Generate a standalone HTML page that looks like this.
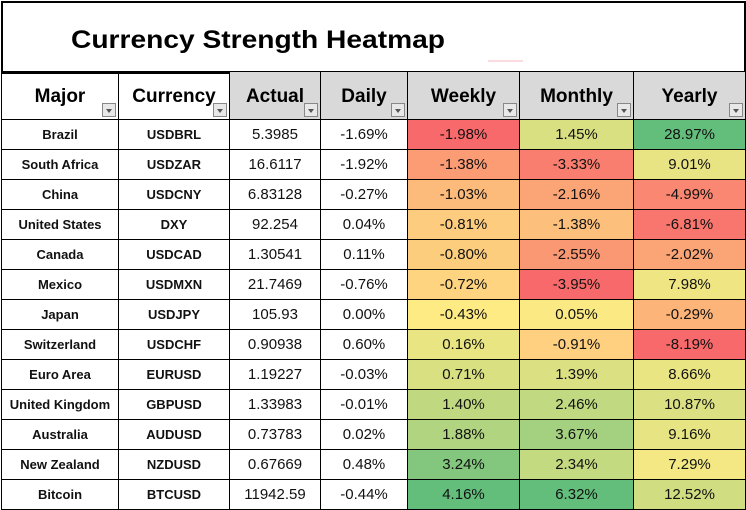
<!DOCTYPE html>
<html><head><meta charset="utf-8"><style>
body{margin:0;width:746px;height:510px;background:#fff;position:relative;overflow:hidden;font-family:"Liberation Sans",sans-serif}
#title{position:absolute;left:1px;top:1px;width:741px;height:69px;border:2px solid #000;border-bottom-width:2px}
table{position:absolute;left:1px;top:71px;border-collapse:collapse;table-layout:fixed}
td,th{border:1px solid #000;padding:0;text-align:center;overflow:hidden;white-space:nowrap;position:relative}
th{height:48px;font-size:19px;font-weight:bold;vertical-align:middle;padding-top:3px;box-sizing:border-box}
th.g{background:#d9d9d9}
td{height:29px;font-size:15px;color:#111}
td.b{font-weight:bold;font-size:13px}
.dd{position:absolute;right:2px;bottom:2px;width:14px;height:14px;border:1px solid #888;background:#e8e8e8;box-sizing:border-box}
.dd:after{content:"";position:absolute;left:3px;top:5px;border-left:3px solid transparent;border-right:3px solid transparent;border-top:4px solid #555}
</style></head><body>
<div id="title"><svg width="741" height="69" style="position:absolute;left:0;top:0"><text x="68" y="45" font-family="Liberation Sans" font-weight="bold" font-size="25" textLength="374" lengthAdjust="spacingAndGlyphs">Currency Strength Heatmap</text><line x1="485" y1="58" x2="520" y2="58" stroke="#f4b8c0" stroke-width="1"/></svg></div>
<table id="t">
<colgroup><col style="width:117px"><col style="width:111px"><col style="width:91px"><col style="width:87px"><col style="width:112px"><col style="width:114px"><col style="width:112px"></colgroup>
<tr><th>Major<span class="dd"></span></th><th>Currency<span class="dd"></span></th><th class="g">Actual<span class="dd"></span></th><th class="g">Daily<span class="dd"></span></th><th class="g">Weekly<span class="dd"></span></th><th class="g">Monthly<span class="dd"></span></th><th class="g">Yearly<span class="dd"></span></th></tr>
</table>
<script>
var d=[["Brazil","USDBRL","5.3985",-1.69,-1.98,1.45,28.97],["South Africa","USDZAR","16.6117",-1.92,-1.38,-3.33,9.01],["China","USDCNY","6.83128",-0.27,-1.03,-2.16,-4.99],["United States","DXY","92.254",0.04,-0.81,-1.38,-6.81],["Canada","USDCAD","1.30541",0.11,-0.80,-2.55,-2.02],["Mexico","USDMXN","21.7469",-0.76,-0.72,-3.95,7.98],["Japan","USDJPY","105.93",0.00,-0.43,0.05,-0.29],["Switzerland","USDCHF","0.90938",0.60,0.16,-0.91,-8.19],["Euro Area","EURUSD","1.19227",-0.03,0.71,1.39,8.66],["United Kingdom","GBPUSD","1.33983",-0.01,1.40,2.46,10.87],["Australia","AUDUSD","0.73783",0.02,1.88,3.67,9.16],["New Zealand","NZDUSD","0.67669",0.48,3.24,2.34,7.29],["Bitcoin","BTCUSD","11942.59",-0.44,4.16,6.32,12.52]];
var R=[248,105,107],Y=[255,235,132],G=[99,190,123];
function mix(a,b,t){return "rgb("+a.map((v,i)=>Math.round(v+(b[i]-v)*t)).join(",")+")";}
var sc={};
[4,5,6].forEach(c=>{var v=d.map(r=>r[c]).sort((a,b)=>a-b);sc[c]=[v[0],v[6],v[12]];});
sc[6][1]=5.5;sc[5][1]=-0.1;sc[4][1]=-0.45;
var t=document.getElementById("t");
d.forEach(r=>{var tr=document.createElement("tr");var h='<td class="b">'+r[0]+'</td><td class="b">'+r[1]+'</td><td>'+r[2]+'</td><td>'+r[3].toFixed(2)+'%</td>';
for(var c=4;c<7;c++){var s=sc[c],v=r[c],col;if(v<=s[1])col=mix(R,Y,(v-s[0])/(s[1]-s[0]));else col=mix(Y,G,(v-s[1])/(s[2]-s[1]));h+='<td style="background:'+col+'">'+v.toFixed(2)+'%</td>';}
tr.innerHTML=h;t.appendChild(tr);});
</script>
</body></html>
